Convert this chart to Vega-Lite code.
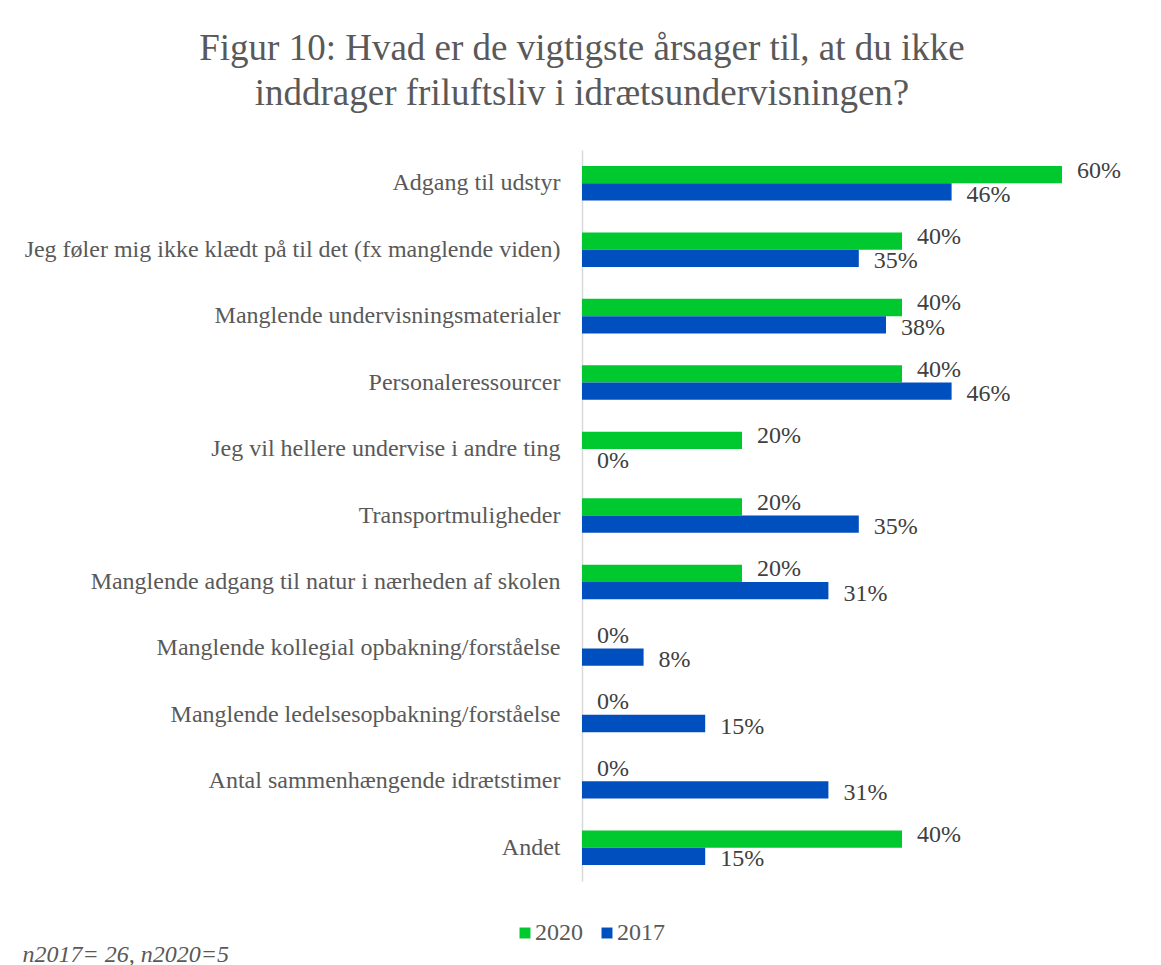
{
  "$schema": "https://vega.github.io/schema/vega-lite/v6.json",
  "width": 560,
  "height": 731,
  "padding": {"left": 22, "top": 30, "right": 19, "bottom": 0},
  "background": "white",
  "config": {"view": {"stroke": null}},
  "title": {
    "text": ["Figur 10: Hvad er de vigtigste årsager til, at du ikke", "inddrager friluftsliv i idrætsundervisningen?"],
    "font": "Liberation Serif",
    "fontSize": 37,
    "fontWeight": "normal",
    "color": "#595959",
    "lineHeight": 45,
    "anchor": "middle",
    "frame": "bounds",
    "offset": 37
  },
  "data": {
    "values": [
      {"category": "Adgang til udstyr", "year": "2020", "value": 0.6},
      {"category": "Adgang til udstyr", "year": "2017", "value": 0.462},
      {"category": "Jeg føler mig ikke klædt på til det (fx manglende viden)", "year": "2020", "value": 0.4},
      {"category": "Jeg føler mig ikke klædt på til det (fx manglende viden)", "year": "2017", "value": 0.346},
      {"category": "Manglende undervisningsmaterialer", "year": "2020", "value": 0.4},
      {"category": "Manglende undervisningsmaterialer", "year": "2017", "value": 0.38},
      {"category": "Personaleressourcer", "year": "2020", "value": 0.4},
      {"category": "Personaleressourcer", "year": "2017", "value": 0.462},
      {"category": "Jeg vil hellere undervise i andre ting", "year": "2020", "value": 0.2},
      {"category": "Jeg vil hellere undervise i andre ting", "year": "2017", "value": 0.0},
      {"category": "Transportmuligheder", "year": "2020", "value": 0.2},
      {"category": "Transportmuligheder", "year": "2017", "value": 0.346},
      {"category": "Manglende adgang til natur i nærheden af skolen", "year": "2020", "value": 0.2},
      {"category": "Manglende adgang til natur i nærheden af skolen", "year": "2017", "value": 0.308},
      {"category": "Manglende kollegial opbakning/forståelse", "year": "2020", "value": 0.0},
      {"category": "Manglende kollegial opbakning/forståelse", "year": "2017", "value": 0.077},
      {"category": "Manglende ledelsesopbakning/forståelse", "year": "2020", "value": 0.0},
      {"category": "Manglende ledelsesopbakning/forståelse", "year": "2017", "value": 0.154},
      {"category": "Antal sammenhængende idrætstimer ", "year": "2020", "value": 0.0},
      {"category": "Antal sammenhængende idrætstimer ", "year": "2017", "value": 0.308},
      {"category": "Andet ", "year": "2020", "value": 0.4},
      {"category": "Andet ", "year": "2017", "value": 0.154}
    ]
  },
  "encoding": {
    "y": {
      "field": "category",
      "type": "nominal",
      "sort": null,
      "scale": {"paddingInner": 0.48, "paddingOuter": 0.24},
      "axis": {
        "title": null,
        "labelFont": "Liberation Serif",
        "labelFontSize": 24,
        "labelColor": "#595959",
        "labelPadding": 22,
        "labelLimit": 0,
        "ticks": false,
        "domainColor": "#d9d9d9",
        "domainWidth": 1.5,
        "grid": false
      }
    },
    "yOffset": {
      "field": "year",
      "type": "nominal",
      "sort": ["2020", "2017"],
      "scale": {"paddingInner": 0, "paddingOuter": 0}
    },
    "x": {
      "field": "value",
      "type": "quantitative",
      "scale": {"domain": [0, 0.7]},
      "axis": {
        "labels": false,
        "ticks": false,
        "domain": false,
        "grid": false,
        "title": "n2017= 26, n2020=5",
        "titleFont": "Liberation Serif",
        "titleFontSize": 24,
        "titleFontStyle": "italic",
        "titleFontWeight": "normal",
        "titleColor": "#595959",
        "titleAnchor": "start",
        "titleAlign": "left",
        "titleBaseline": "alphabetic",
        "titleX": -560,
        "titleY": 80
      }
    }
  },
  "layer": [
    {
      "mark": {"type": "bar"},
      "encoding": {
        "color": {
          "field": "year",
          "type": "nominal",
          "scale": {"domain": ["2020", "2017"], "range": ["#00C82F", "#004FBF"]},
          "legend": {
            "orient": "none",
            "legendX": -69,
            "legendY": 771,
            "direction": "horizontal",
            "title": null,
            "symbolType": "square",
            "symbolSize": 120,
            "symbolStrokeWidth": 0,
            "labelFont": "Liberation Serif",
            "labelFontSize": 24,
            "labelColor": "#595959",
            "columnPadding": 12,
            "labelOffset": -2
          }
        }
      }
    },
    {
      "transform": [{"filter": "datum.year == '2020'"}],
      "mark": {"type": "text", "align": "left", "baseline": "middle", "dx": 15, "dy": -4, "font": "Liberation Serif", "fontSize": 24, "color": "#404040"},
      "encoding": {"text": {"field": "value", "type": "quantitative", "format": ".0%"}}
    },
    {
      "transform": [{"filter": "datum.year == '2017'"}],
      "mark": {"type": "text", "align": "left", "baseline": "middle", "dx": 15, "dy": 3, "font": "Liberation Serif", "fontSize": 24, "color": "#404040"},
      "encoding": {"text": {"field": "value", "type": "quantitative", "format": ".0%"}}
    }
  ]
}
